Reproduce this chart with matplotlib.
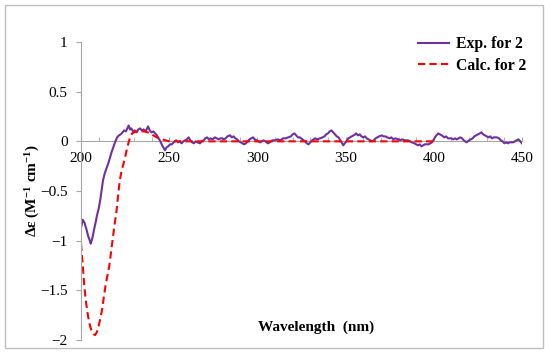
import matplotlib
matplotlib.use("Agg")
from matplotlib import pyplot as plt
from matplotlib.patches import Rectangle
from matplotlib.ticker import MultipleLocator


# --------------------------- DATA ---------------------------

exp_wl = [200, 201, 202, 203, 204, 205, 205.5, 206.5, 207.5, 208.5, 209, 210, 211, 212, 212.5,
          213.5, 214.5, 215.5, 216.5, 217.5, 218.5, 219.5, 220.5, 221.5, 222.5, 223.5, 224.5,
          225.5, 226.5, 227, 227.8, 228.5, 229.5, 230.5, 231.5, 232.5, 233.5, 234.5, 235.5,
          236.5, 237.5, 238, 239, 240, 241, 242, 243, 244, 245, 246, 247, 247.6, 248.5, 249.5,
          250.5, 251.5, 252.5, 254, 255, 256, 257, 258, 259, 260, 261, 262, 263, 264, 265, 266,
          267.5, 268.5, 269.5, 270.5, 271.5, 272.5, 273.5, 274.5, 276, 277, 278, 279, 280, 281,
          282, 283, 284.5, 285.5, 286.5, 287.5, 288.5, 289.5, 290.5, 291.5, 292.5, 293.5, 294.5,
          295.5, 296.5, 297.5, 298.5, 299.5, 300.5, 301.5, 302.5, 303.5, 304.5, 306, 307, 308.5,
          310, 311.5, 313, 314.5, 316, 317.5, 319, 320, 321, 322, 323, 324, 325.5, 327, 328, 329,
          330, 331, 332.7, 334, 335.5, 337, 338, 339, 340, 341, 342, 343, 344, 345, 346, 347, 348,
          348.7, 349.5, 350.5, 351.5, 352.5, 353.5, 354.5, 355.5, 356, 357, 358, 359, 360, 361,
          362, 363, 364, 365, 366, 367, 368, 369, 370.5, 371.5, 372.5, 373.5, 375, 376, 377, 378,
          380, 381, 382, 383.5, 385.5, 386.5, 387.5, 389, 390, 391, 392, 393, 394, 395, 397, 398,
          399, 400, 401, 402.5, 403.5, 404.5, 406, 407, 408, 409, 410, 411, 412, 413, 415, 416,
          417, 418.6, 420, 421, 422, 423, 424, 425, 426, 427, 428, 429, 430, 431, 432, 433, 434,
          435.7, 437, 438, 439, 440, 441, 442, 443, 444, 445, 446, 447, 448, 449, 450]
exp_de = [-0.87, -0.79, -0.82, -0.88, -0.95, -1.00, -1.03, -0.97, -0.88, -0.80, -0.75, -0.68,
          -0.58, -0.45, -0.39, -0.32, -0.27, -0.22, -0.16, -0.10, -0.05, 0.00, 0.04, 0.06, 0.07,
          0.09, 0.11, 0.10, 0.14, 0.16, 0.12, 0.13, 0.10, 0.11, 0.09, 0.12, 0.13, 0.11, 0.12,
          0.10, 0.13, 0.15, 0.11, 0.09, 0.10, 0.08, 0.06, 0.03, 0.00, -0.04, -0.07, -0.09, -0.06,
          -0.05, -0.03, -0.03, -0.01, 0.01, -0.01, 0.00, -0.02, 0.00, 0.01, 0.02, 0.04, 0.01,
          -0.01, -0.02, 0.00, -0.01, -0.02, 0.00, 0.01, 0.03, 0.04, 0.02, 0.03, 0.02, 0.04, 0.03,
          0.02, 0.03, 0.03, 0.02, 0.03, 0.05, 0.06, 0.04, 0.05, 0.03, 0.02, 0.00, -0.01, -0.02,
          -0.03, -0.02, 0.00, 0.02, 0.03, 0.04, 0.02, 0.01, 0.00, -0.01, 0.00, 0.01, 0.00, -0.02,
          -0.01, 0.01, 0.01, 0.02, 0.01, 0.03, 0.03, 0.04, 0.05, 0.07, 0.08, 0.06, 0.04, 0.04,
          0.02, 0.00, -0.02, -0.03, -0.01, 0.01, 0.03, 0.02, 0.03, 0.04, 0.05, 0.07, 0.08, 0.10,
          0.11, 0.09, 0.07, 0.05, 0.04, 0.01, -0.02, -0.04, -0.02, 0.00, 0.03, 0.04, 0.05, 0.06,
          0.07, 0.08, 0.06, 0.07, 0.05, 0.04, 0.05, 0.03, 0.02, 0.01, 0.00, 0.01, 0.03, 0.04,
          0.05, 0.06, 0.05, 0.05, 0.04, 0.03, 0.04, 0.02, 0.03, 0.02, 0.01, 0.02, 0.01, 0.01,
          0.00, -0.01, -0.02, -0.03, -0.04, -0.03, -0.05, -0.04, -0.03, -0.03, -0.02, -0.01,
          0.02, 0.05, 0.08, 0.07, 0.06, 0.04, 0.05, 0.03, 0.03, 0.03, 0.02, 0.03, 0.02, 0.04,
          0.03, 0.01, -0.01, 0.01, 0.02, 0.03, 0.05, 0.06, 0.07, 0.08, 0.09, 0.07, 0.06, 0.05,
          0.04, 0.05, 0.03, 0.04, 0.04, 0.03, 0.01, 0.00, -0.02, -0.01, -0.02, -0.01, -0.01,
          -0.01, 0.00, 0.01, 0.02, 0.00, -0.02]

calc_wl = [200, 201, 202, 203, 204, 205, 206, 207, 208, 209, 210, 211, 212, 213, 214, 215, 216,
           217, 218, 219, 220, 221, 222, 223, 224, 225, 226, 227, 228, 229, 230, 232, 234, 236,
           238, 240, 242, 244, 246, 248, 250, 255, 260, 300, 350, 400]
calc_de = [-1.03, -1.25, -1.48, -1.64, -1.76, -1.85, -1.91, -1.94, -1.95, -1.92, -1.86, -1.78,
           -1.69, -1.56, -1.44, -1.35, -1.26, -1.12, -0.98, -0.84, -0.72, -0.55, -0.39, -0.30,
           -0.23, -0.16, -0.08, -0.01, 0.05, 0.08, 0.09, 0.10, 0.10, 0.10, 0.09, 0.07, 0.05,
           0.03, 0.02, 0.01, 0.00, 0.00, 0.00, 0.00, 0.00, 0.00]

labels = ["Exp. for 2", "Calc. for 2"]


# --------------------------- FIGURE ---------------------------

plt.rcParams['font.family'] = ['Liberation Serif', 'DejaVu Serif']
plt.rcParams['font.size'] = 11
plt.rcParams['mathtext.fontset'] = 'custom'
plt.rcParams['mathtext.rm'] = 'Liberation Serif'
plt.rcParams['mathtext.bf'] = 'Liberation Serif:bold'
plt.rcParams['mathtext.default'] = 'bf'

fig = plt.figure(figsize=(5.5, 3.58), dpi=100)
ax = fig.add_axes([81 / 550, 1 - 340 / 358, 441 / 550, 298 / 358])

ax.plot(exp_wl, exp_de, color='#7030A0', lw=1.5, label=labels[0])
ax.plot(calc_wl, calc_de, color='#FF0000', lw=1.5, linestyle=(0, (3.5, 2)), label=labels[1])

ax.set_xlim(200, 450)
ax.set_ylim(-2, 1)

axis_gray = '#A6A6A6'
ax.spines['top'].set_visible(False)
ax.spines['right'].set_visible(False)
ax.spines['bottom'].set_position(('data', 0))
ax.spines['bottom'].set_color(axis_gray)
ax.spines['left'].set_color(axis_gray)
ax.spines['bottom'].set_zorder(0.5)

ax.xaxis.set_major_locator(MultipleLocator(50))
ax.xaxis.set_minor_locator(MultipleLocator(10))
ax.yaxis.set_major_locator(MultipleLocator(0.5))
ax.tick_params(axis='x', which='both', direction='in', length=3, color=axis_gray, pad=8)
ax.tick_params(axis='y', direction='out', length=3.6, color=axis_gray, pad=6)
ax.yaxis.set_major_formatter(plt.FuncFormatter(lambda v, p: ('%g' % v).replace('-', '\u2212')))

ax.legend(loc='upper left', bbox_to_anchor=(0.764, 1.02), frameon=False, borderaxespad=0,
          borderpad=0, handlelength=2.0, handletextpad=0.45, labelspacing=0.35,
          prop={'weight': 'bold', 'size': 11.3})

ax.text(0.533, 0.044, "Wavelength  (nm)", transform=ax.transAxes, ha='center', va='center',
        fontweight='bold')
fig.text(33 / 550, 1 - 191 / 358, "\u0394\u03b5 (M$^{-1}$ cm$^{-1}$)", rotation=90,
         ha='center', va='center', fontweight='bold')

fig.patches.append(Rectangle((5 / 550, 1 - 348 / 358), 538 / 550, 343 / 358,
                             transform=fig.transFigure, fill=False, edgecolor='#BFBFBF', lw=1))

fig.savefig("out.png", dpi=100)
